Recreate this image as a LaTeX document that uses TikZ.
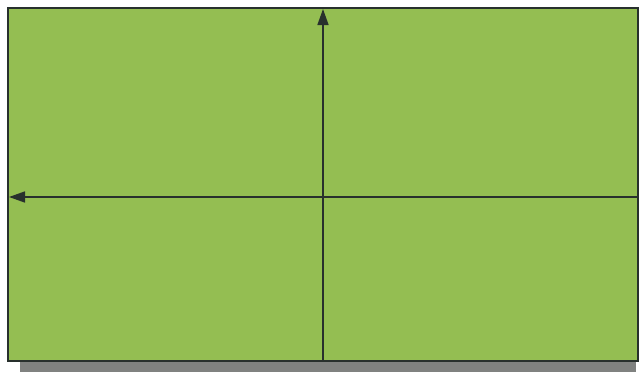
\documentclass[tikz,border=0pt]{standalone}
\usetikzlibrary{arrows.meta}
\definecolor{fieldgreen}{RGB}{148,190,82}
\definecolor{shadowgray}{RGB}{128,130,128}
\definecolor{edgedark}{RGB}{40,48,45}
\tikzset{
  axisline/.style={draw=edgedark, line width=1.6pt},
  axisarrow/.style={axisline, -{Triangle[length=16pt,width=11pt]}},
}
\begin{document}
\begin{tikzpicture}[x=1pt,y=-1pt]
\useasboundingbox (0,0) rectangle (643,372);
\fill[white] (0,0) rectangle (643,372);
% shadow
\fill[shadowgray] (20,360) rectangle (636,372);
% field
\fill[fieldgreen] (8,8) rectangle (638,361);
\draw[edgedark, line width=2pt] (8,8) rectangle (638,361);
% axes
\coordinate (vbot) at (323,361);
\coordinate (vtop) at (323,9);
\coordinate (hright) at (638,197);
\coordinate (hleft) at (9,197);
\draw[axisarrow] (vbot) -- (vtop);
\draw[axisarrow] (hright) -- (hleft);
\end{tikzpicture}
\end{document}
